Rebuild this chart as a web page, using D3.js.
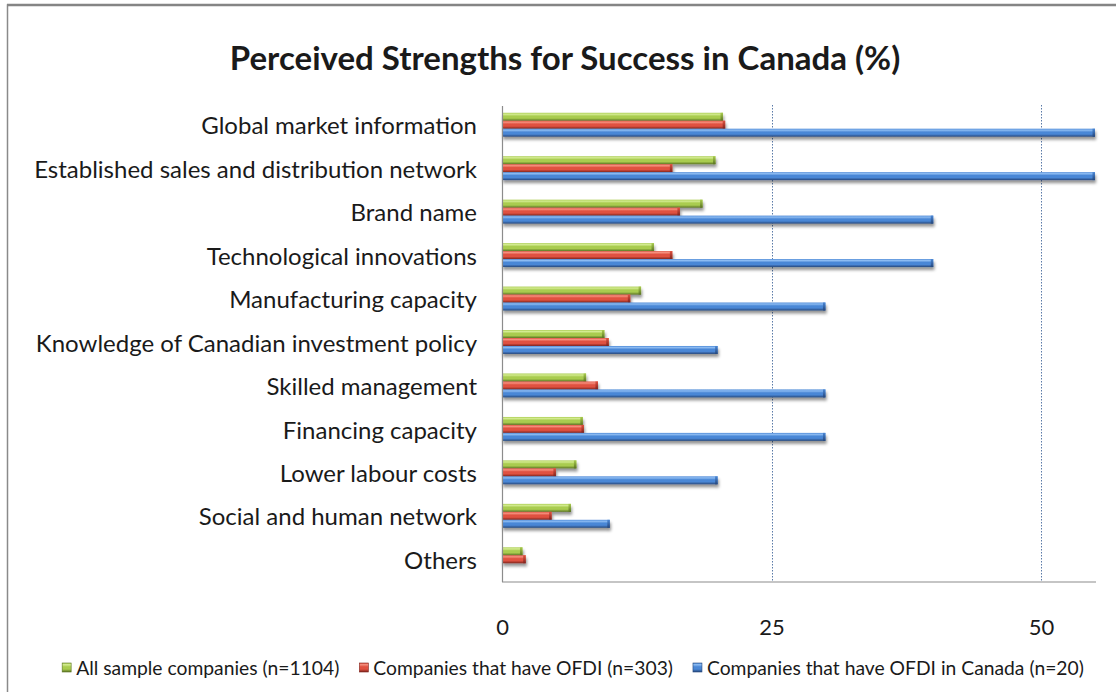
<!DOCTYPE html>
<html>
<head>
<meta charset="utf-8">
<script src="https://cdn.jsdelivr.net/npm/d3@7"></script>
<style>
  html, body { margin: 0; padding: 0; background: #ffffff; }
  svg { display: block; }
  text { font-family: Lato, "Noto Sans", "DejaVu Sans", sans-serif; fill: #1a1a1a; }
</style>
</head>
<body>
<svg id="chart" width="1116" height="692"></svg>
<script>
// Strengths named by respondents, top to bottom
const categories = [
  "Global market information",
  "Established sales and distribution network",
  "Brand name",
  "Technological innovations",
  "Manufacturing capacity",
  "Knowledge of Canadian investment policy",
  "Skilled management",
  "Financing capacity",
  "Lower labour costs",
  "Social and human network",
  "Others"
];

// Share of respondents (%) per group
const allSample   = [20.5, 19.8, 18.6, 14.1, 12.9, 9.5, 7.8, 7.5, 6.9, 6.4, 1.9];
const withOFDI    = [20.7, 15.8, 16.5, 15.8, 11.9, 9.9, 8.9, 7.6, 5.0, 4.6, 2.2];
const ofdiCanada  = [55, 55, 40, 40, 30, 20, 30, 30, 20, 10, 0];

const seriesNames = [
  "All sample companies (n=1104)",
  "Companies that have OFDI (n=303)",
  "Companies that have OFDI in Canada (n=20)"
];
const xTicks = [0, 25, 50];
const xMax = 55;

const series = [
  { key: "all",    name: seriesNames[0], values: allSample,  light: "#d4ec92", mid: "#a9cc4f", dark: "#5a7322" },
  { key: "ofdi",   name: seriesNames[1], values: withOFDI,   light: "#f5907f", mid: "#e05140", dark: "#7e241d" },
  { key: "canada", name: seriesNames[2], values: ofdiCanada, light: "#8dbcf2", mid: "#4a87d6", dark: "#25477c" }
];

const svg = d3.select("#chart");
const W = 1116, H = 692;
const plot = { left: 502, right: 1095, top: 103, bottom: 581 };

// outer frame
svg.append("rect")
  .attr("x", 7.5).attr("y", 5).attr("width", W + 20).attr("height", H + 20)
  .attr("fill", "none").attr("stroke", "#8a8a8a").attr("stroke-width", 1.5);
svg.append("line")
  .attr("x1", 7).attr("x2", W).attr("y1", 5).attr("y2", 5)
  .attr("stroke", "#858585").attr("stroke-width", 2.5);

const defs = svg.append("defs");
series.forEach(s => {
  const g = defs.append("linearGradient")
    .attr("id", "grad-" + s.key).attr("x1", 0).attr("x2", 0).attr("y1", 0).attr("y2", 1);
  g.append("stop").attr("offset", "0%").attr("stop-color", s.mid);
  g.append("stop").attr("offset", "18%").attr("stop-color", s.light);
  g.append("stop").attr("offset", "42%").attr("stop-color", s.mid);
  g.append("stop").attr("offset", "68%").attr("stop-color", s.mid);
  g.append("stop").attr("offset", "100%").attr("stop-color", s.dark);
  const c = defs.append("linearGradient")
    .attr("id", "cap-" + s.key).attr("x1", 0).attr("x2", 0).attr("y1", 0).attr("y2", 1);
  c.append("stop").attr("offset", "0%").attr("stop-color", s.mid);
  c.append("stop").attr("offset", "100%").attr("stop-color", s.dark);
});
const shadow = defs.append("filter").attr("id", "barShadow")
  .attr("x", "-5%").attr("y", "-50%").attr("width", "110%").attr("height", "250%");
shadow.append("feDropShadow")
  .attr("dx", 1).attr("dy", 3).attr("stdDeviation", 1.8)
  .attr("flood-color", "#000").attr("flood-opacity", 0.42);

const x = d3.scaleLinear().domain([0, xMax]).range([plot.left, plot.right]);
const y = d3.scaleBand().domain(categories)
  .range([plot.top, plot.bottom]).paddingInner(0.45).paddingOuter(0.225);
const ySub = d3.scaleBand().domain(series.map(s => s.key)).range([0, y.bandwidth()]);

// title
svg.append("text")
  .attr("x", 565).attr("y", 58).attr("dy", "0.35em")
  .attr("text-anchor", "middle")
  .style("font-size", "33px").style("font-weight", "bold")
  .text("Perceived Strengths for Success in Canada (%)");

// dotted gridlines
svg.append("g").selectAll("line")
  .data(xTicks.filter(t => t > 0))
  .join("line")
  .attr("x1", d => Math.round(x(d)) + 0.5).attr("x2", d => Math.round(x(d)) + 0.5)
  .attr("y1", plot.top + 2).attr("y2", plot.bottom)
  .attr("stroke", "#5a7aa8").attr("stroke-width", 1).attr("stroke-dasharray", "1.5,1.5");

// bars
const groups = svg.append("g").selectAll("g")
  .data(series).join("g")
  .attr("filter", "url(#barShadow)");

groups.each(function (s) {
  const g = d3.select(this);
  const items = categories.map((c, i) => ({ c, v: s.values[i] })).filter(d => d.v > 0);
  g.selectAll("rect.body").data(items).join("rect")
    .attr("class", "body")
    .attr("x", x(0))
    .attr("y", d => y(d.c) + ySub(s.key))
    .attr("width", d => x(d.v) - x(0))
    .attr("height", ySub.bandwidth())
    .attr("fill", "url(#grad-" + s.key + ")");
  g.selectAll("rect.cap").data(items).join("rect")
    .attr("class", "cap")
    .attr("x", d => x(d.v) - 2.5)
    .attr("y", d => y(d.c) + ySub(s.key))
    .attr("width", 2.5)
    .attr("height", ySub.bandwidth())
    .attr("fill", "url(#cap-" + s.key + ")");
});

// axes lines
svg.append("line")
  .attr("x1", plot.left + 0.5).attr("x2", plot.left + 0.5)
  .attr("y1", plot.top + 3).attr("y2", plot.bottom + 1)
  .attr("stroke", "#8c8c8c").attr("stroke-width", 1.2);
svg.append("line")
  .attr("x1", plot.left).attr("x2", plot.right + 1)
  .attr("y1", plot.bottom + 1).attr("y2", plot.bottom + 1)
  .attr("stroke", "#8c8c8c").attr("stroke-width", 1.2);

// category labels
const yAxis = d3.axisLeft(y).tickSize(0).tickPadding(25);
const yg = svg.append("g").attr("transform", `translate(${plot.left},0)`).call(yAxis);
yg.select(".domain").remove();
yg.selectAll("text")
  .style("font-size", "24px").style("font-family", "Lato, 'Noto Sans', sans-serif")
  .attr("fill", "#1a1a1a").attr("dy", "0.4em");

// value axis labels
const xAxis = d3.axisBottom(x).tickValues(xTicks).tickSize(0).tickPadding(38);
const xg = svg.append("g").attr("transform", `translate(0,${plot.bottom})`).call(xAxis);
xg.select(".domain").remove();
xg.selectAll("text")
  .style("font-size", "22px").style("font-family", "Lato, 'Noto Sans', sans-serif")
  .attr("fill", "#1a1a1a");

// legend
const legend = svg.append("g");
const legendY = 668;
const items = legend.selectAll("g").data(series).join("g");
items.append("rect")
  .attr("width", 9).attr("height", 9).attr("y", -5)
  .attr("fill", d => "url(#grad-" + d.key + ")")
  .attr("stroke", d => d.dark).attr("stroke-width", 0.6);
items.append("text")
  .attr("x", 14).attr("dy", "0.35em")
  .style("font-size", "19.3px")
  .text(d => d.name);
let cursor = 0;
const gap = 20;
const widths = [];
items.each(function () {
  const w = 14 + d3.select(this).select("text").node().getComputedTextLength();
  widths.push(w);
});
const total = d3.sum(widths) + gap * (widths.length - 1);
cursor = 573 - total / 2;
items.each(function (d, i) {
  d3.select(this).attr("transform", `translate(${cursor},${legendY})`);
  cursor += widths[i] + gap;
});
</script>
</body>
</html>
